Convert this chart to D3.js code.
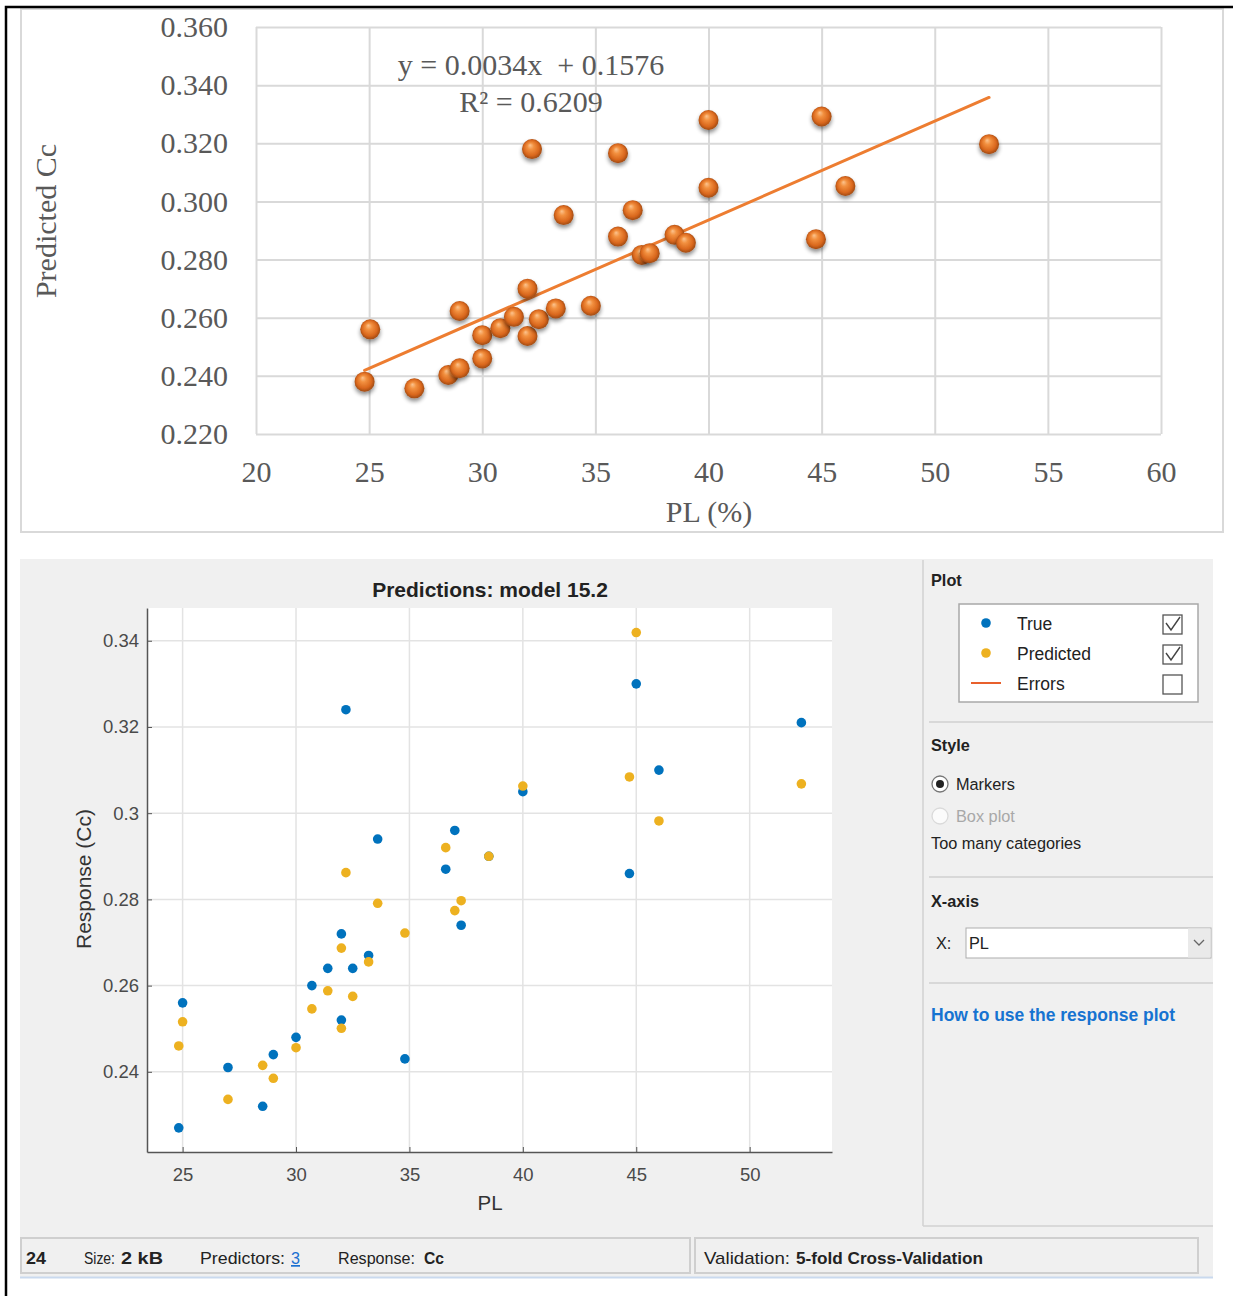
<!DOCTYPE html>
<html>
<head>
<meta charset="utf-8">
<script src="https://cdn.jsdelivr.net/npm/d3@7"></script>
<style>
  body { margin: 0; background: #fff; }
  svg { display: block; }
</style>
</head>
<body>
<div id="chart"></div>
<script>
///////////////////////////////////////////////
// Data ///////////////////////////////////////
///////////////////////////////////////////////

// Top chart (Excel scatter with trendline)
var topPL = [25.05, 24.8, 27.0, 28.5, 29.0, 29.0, 30.0, 30.0, 30.8, 31.4, 32.0, 32.0, 32.5, 32.2, 33.25,
             33.6, 34.8, 36.0, 36.0, 36.65, 37.05, 37.4, 38.5, 39.0, 40.0, 40.0, 45.0, 46.05, 44.75, 52.4];
var topCc = [0.256, 0.238, 0.2357, 0.2403, 0.2426, 0.2623, 0.246, 0.254, 0.2564, 0.2603, 0.270, 0.2537, 0.2595, 0.318, 0.2632,
             0.2953, 0.2641, 0.3166, 0.2879, 0.297, 0.2816, 0.2822, 0.2885, 0.2858, 0.328, 0.3047, 0.3292, 0.3053, 0.287, 0.3197];
var trendSlope = 0.0034, trendIntercept = 0.1576;
var topXTicks = [20, 25, 30, 35, 40, 45, 50, 55, 60];
var topYTicks = [0.22, 0.24, 0.26, 0.28, 0.30, 0.32, 0.34, 0.36];

// Bottom chart (response plot, model 15.2)
var pl     = [24.83, 25.0, 27.0, 28.53, 29.0, 30.0, 30.7, 31.4, 32.0, 32.0, 32.2, 32.5,
              33.2, 33.6, 34.8, 36.6, 37.0, 37.28, 38.5, 40.0, 44.7, 45.0, 46.0, 52.28];
var ccTrue = [0.227, 0.256, 0.241, 0.232, 0.244, 0.248, 0.260, 0.264, 0.272, 0.252, 0.324, 0.264,
              0.267, 0.294, 0.243, 0.287, 0.296, 0.274, 0.290, 0.305, 0.286, 0.330, 0.310, 0.321];
var ccPred = [0.246, 0.2516, 0.2336, 0.2415, 0.2385, 0.2456, 0.2546, 0.2588, 0.2687, 0.2501, 0.2862, 0.2575,
              0.2655, 0.2791, 0.2722, 0.292, 0.2774, 0.2797, 0.290, 0.3063, 0.3084, 0.3419, 0.2982, 0.3068];
var botXTicks = [25, 30, 35, 40, 45, 50];
var botYTicks = [0.24, 0.26, 0.28, 0.30, 0.32, 0.34];
var botXLim = [23.43, 53.63], botYLim = [0.2214, 0.3476];

var legendLabels = ["True", "Predicted", "Errors"];
var legendChecked = [true, true, false];

///////////////////////////////////////////////
// Svg ////////////////////////////////////////
///////////////////////////////////////////////

var W = 1233, H = 1296;
var svg = d3.select("#chart").append("svg")
    .attr("width", W)
    .attr("height", H);

svg.append("rect").attr("width", W).attr("height", H).attr("fill", "#fff");

var defs = svg.append("defs");

var ball = defs.append("radialGradient")
    .attr("id", "ball")
    .attr("cx", "50%").attr("cy", "50%").attr("r", "55%")
    .attr("fx", "40%").attr("fy", "30%");
ball.selectAll("stop")
    .data([
      {offset: "0%", color: "#fcc48f"},
      {offset: "30%", color: "#f2903f"},
      {offset: "70%", color: "#d9671d"},
      {offset: "100%", color: "#8f4210"}
    ])
    .enter().append("stop")
    .attr("offset", function(d) { return d.offset; })
    .attr("stop-color", function(d) { return d.color; });

var shadow = defs.append("filter")
    .attr("id", "shadow")
    .attr("x", "-50%").attr("y", "-50%").attr("width", "200%").attr("height", "200%");
shadow.append("feGaussianBlur").attr("in", "SourceAlpha").attr("stdDeviation", 2).attr("result", "b");
shadow.append("feOffset").attr("in", "b").attr("dx", 0).attr("dy", 3).attr("result", "o");
shadow.append("feComponentTransfer").attr("in", "o").attr("result", "s")
  .append("feFuncA").attr("type", "linear").attr("slope", 0.45);
var merge = shadow.append("feMerge");
merge.append("feMergeNode").attr("in", "s");
merge.append("feMergeNode").attr("in", "SourceGraphic");

///////////////////////////////////////////////
// Top chart //////////////////////////////////
///////////////////////////////////////////////

var serif = "'Liberation Serif', 'Times New Roman', serif";

svg.append("rect")
    .attr("x", 21).attr("y", 9).attr("width", 1202).attr("height", 523)
    .attr("fill", "none").attr("stroke", "#d9d9d9").attr("stroke-width", 2);

var tx = d3.scaleLinear().domain([20, 60]).range([256, 1161]);
var ty = d3.scaleLinear().domain([0.22, 0.36]).range([434, 27]);

var topG = svg.append("g").attr("class", "topChart");

topG.append("g")
    .attr("transform", "translate(" + 256 + ",0)")
    .call(d3.axisLeft(ty).tickValues(topYTicks).tickFormat(d3.format(".3f"))
      .tickSize(-(1161 - 256)).tickPadding(28))
    .call(styleTopAxis);

topG.append("g")
    .attr("transform", "translate(0," + 434 + ")")
    .call(d3.axisBottom(tx).tickValues(topXTicks).tickFormat(d3.format("d"))
      .tickSize(-(434 - 27)).tickPadding(27))
    .call(styleTopAxis);

function styleTopAxis(g) {
  g.select(".domain").remove();
  g.selectAll(".tick line").attr("stroke", "#d9d9d9").attr("stroke-width", 2);
  g.selectAll(".tick text")
    .style("font-family", serif)
    .style("font-size", "30px")
    .attr("fill", "#595959");
}

// trendline
var trendX = d3.extent(topPL);
topG.append("line")
    .attr("x1", tx(trendX[0])).attr("y1", ty(trendSlope * trendX[0] + trendIntercept))
    .attr("x2", tx(trendX[1])).attr("y2", ty(trendSlope * trendX[1] + trendIntercept))
    .attr("stroke", "#ed7d31")
    .attr("stroke-width", 3)
    .attr("stroke-linecap", "round");

// spheres
topG.append("g").selectAll("circle")
    .data(topPL)
    .enter().append("circle")
    .attr("cx", function(d) { return tx(d); })
    .attr("cy", function(d, i) { return ty(topCc[i]); })
    .attr("r", 10)
    .attr("fill", "url(#ball)")
    .attr("filter", "url(#shadow)");

// equation
topG.append("text")
    .attr("x", 531).attr("y", 75)
    .attr("text-anchor", "middle")
    .style("font-family", serif).style("font-size", "30px")
    .attr("fill", "#595959")
    .text("y = 0.0034x \u00a0+ 0.1576");
topG.append("text")
    .attr("x", 531).attr("y", 112)
    .attr("text-anchor", "middle")
    .style("font-family", serif).style("font-size", "30px")
    .attr("fill", "#595959")
    .text("R² = 0.6209");

// axis titles
topG.append("text")
    .attr("x", 709).attr("y", 522)
    .attr("text-anchor", "middle")
    .style("font-family", serif).style("font-size", "30px")
    .attr("fill", "#595959")
    .text("PL (%)");
topG.append("text")
    .attr("transform", "translate(56,221) rotate(-90)")
    .attr("text-anchor", "middle")
    .style("font-family", serif).style("font-size", "30px")
    .attr("fill", "#595959")
    .text("Predicted Cc");

///////////////////////////////////////////////
// Bottom chart ///////////////////////////////
///////////////////////////////////////////////

var sans = "'Liberation Sans', Arial, sans-serif";

svg.append("rect")
    .attr("x", 20).attr("y", 559).attr("width", 1193).attr("height", 718)
    .attr("fill", "#f0f0f0");
svg.append("line")
    .attr("x1", 20).attr("x2", 1213).attr("y1", 1277.5).attr("y2", 1277.5)
    .attr("stroke", "#c9d9ee").attr("stroke-width", 2);

var bx = d3.scaleLinear().domain(botXLim).range([147, 832]);
var by = d3.scaleLinear().domain(botYLim).range([1152, 608]);

var botG = svg.append("g").attr("class", "bottomChart");

botG.append("rect")
    .attr("x", 147).attr("y", 608).attr("width", 832 - 147).attr("height", 1152 - 608)
    .attr("fill", "#fff");

// grid
botG.append("g").selectAll("line")
    .data(botXTicks).enter().append("line")
    .attr("x1", function(d) { return bx(d); }).attr("x2", function(d) { return bx(d); })
    .attr("y1", 608).attr("y2", 1152)
    .attr("stroke", "#e3e3e3").attr("stroke-width", 1.5);
botG.append("g").selectAll("line")
    .data(botYTicks).enter().append("line")
    .attr("y1", function(d) { return by(d); }).attr("y2", function(d) { return by(d); })
    .attr("x1", 147).attr("x2", 832)
    .attr("stroke", "#e3e3e3").attr("stroke-width", 1.5);

// axes
botG.append("g")
    .attr("transform", "translate(147,0)")
    .call(d3.axisLeft(by).tickValues(botYTicks).tickFormat(d3.format(".2~f"))
      .tickSizeInner(-5).tickSizeOuter(0).tickPadding(8))
    .call(styleBotAxis);
botG.append("g")
    .attr("transform", "translate(0,1152)")
    .call(d3.axisBottom(bx).tickValues(botXTicks).tickFormat(d3.format("d"))
      .tickSizeInner(-5).tickSizeOuter(0).tickPadding(16))
    .call(styleBotAxis);

function styleBotAxis(g) {
  g.select(".domain").attr("stroke", "#555").attr("stroke-width", 1.5);
  g.selectAll(".tick line").attr("stroke", "#555");
  g.selectAll(".tick text")
    .style("font-family", sans)
    .style("font-size", "18.5px")
    .attr("fill", "#4a4a4a");
}

// points: True first, Predicted on top
botG.append("g").selectAll("circle")
    .data(pl).enter().append("circle")
    .attr("cx", function(d) { return bx(d); })
    .attr("cy", function(d, i) { return by(ccTrue[i]); })
    .attr("r", 4.8)
    .attr("fill", "#0072bd");
botG.append("g").selectAll("circle")
    .data(pl).enter().append("circle")
    .attr("cx", function(d) { return bx(d); })
    .attr("cy", function(d, i) { return by(ccPred[i]); })
    .attr("r", 4.8)
    .attr("fill", "#edb120");

botG.append("text")
    .attr("x", 490).attr("y", 597)
    .attr("text-anchor", "middle")
    .style("font-family", sans).style("font-size", "21px").style("font-weight", "bold")
    .attr("fill", "#222")
    .text("Predictions: model 15.2");
botG.append("text")
    .attr("x", 490).attr("y", 1210)
    .attr("text-anchor", "middle")
    .style("font-family", sans).style("font-size", "20.5px")
    .attr("fill", "#333")
    .text("PL");
botG.append("text")
    .attr("transform", "translate(91,879) rotate(-90)")
    .attr("text-anchor", "middle")
    .style("font-family", sans).style("font-size", "21px")
    .attr("fill", "#333")
    .text("Response (Cc)");

///////////////////////////////////////////////
// Side panel /////////////////////////////////
///////////////////////////////////////////////

var side = svg.append("g").attr("class", "side")
    .style("font-family", sans).style("font-size", "16.3px");

side.append("line").attr("x1", 923).attr("x2", 923).attr("y1", 560).attr("y2", 1226)
    .attr("stroke", "#d2d2d2").attr("stroke-width", 1.5);
side.append("line").attr("x1", 923).attr("x2", 1213).attr("y1", 1226).attr("y2", 1226)
    .attr("stroke", "#d2d2d2").attr("stroke-width", 1.5);
[722, 877, 983].forEach(function(y) {
  side.append("line").attr("x1", 929).attr("x2", 1213).attr("y1", y).attr("y2", y)
      .attr("stroke", "#d8d8d8").attr("stroke-width", 2);
});

function label(x, y, t, bold, color) {
  return side.append("text").attr("x", x).attr("y", y)
      .style("font-weight", bold ? "bold" : "normal")
      .attr("fill", color || "#222").text(t);
}

label(931, 586, "Plot", true);

side.append("rect").attr("x", 959).attr("y", 604).attr("width", 239).attr("height", 98)
    .attr("fill", "#fff").attr("stroke", "#a8a8a8").attr("stroke-width", 1.5);

var legend = side.selectAll(".leg")
    .data(legendLabels).enter().append("g")
    .attr("class", "leg")
    .attr("transform", function(d, i) { return "translate(0," + (625 + i * 30) + ")"; });

legend.each(function(d, i) {
  var g = d3.select(this);
  if (i < 2) {
    g.append("circle").attr("cx", 986).attr("cy", -2).attr("r", 4.8)
      .attr("fill", i === 0 ? "#0072bd" : "#edb120");
  } else {
    g.append("line").attr("x1", 971).attr("x2", 1001).attr("y1", -2).attr("y2", -2)
      .attr("stroke", "#e8602c").attr("stroke-width", 2);
  }
  g.append("text").attr("x", 1017).attr("y", 5).attr("fill", "#222")
    .style("font-size", "17.5px").text(d);
  g.append("rect").attr("x", 1163).attr("y", -10).attr("width", 19).attr("height", 19)
    .attr("fill", "#fff").attr("stroke", "#555").attr("stroke-width", 1.3);
  if (legendChecked[i]) {
    g.append("path").attr("d", "M1166,-2 L1171,5 L1180,-8")
      .attr("fill", "none").attr("stroke", "#444").attr("stroke-width", 1.4);
  }
});

label(931, 751, "Style", true);
side.append("circle").attr("cx", 940).attr("cy", 784).attr("r", 8)
    .attr("fill", "#fff").attr("stroke", "#777").attr("stroke-width", 1.3);
side.append("circle").attr("cx", 940).attr("cy", 784).attr("r", 4).attr("fill", "#222");
label(956, 790, "Markers", false);
side.append("circle").attr("cx", 940).attr("cy", 816).attr("r", 8)
    .attr("fill", "#fbfbfb").attr("stroke", "#dadada").attr("stroke-width", 1.3);
label(956, 822, "Box plot", false, "#a8a8a8");
label(931, 849, "Too many categories", false);

label(931, 907, "X-axis", true);
label(936, 949, "X:", false);
side.append("rect").attr("x", 966).attr("y", 928).attr("width", 245).attr("height", 30)
    .attr("fill", "#fff").attr("stroke", "#adadad").attr("stroke-width", 1);
side.append("rect").attr("x", 1188).attr("y", 928.5).attr("width", 22.5).attr("height", 29)
    .attr("fill", "#eaeaea");
side.append("path").attr("d", "M1194,940 L1199,945 L1204,940")
    .attr("fill", "none").attr("stroke", "#666").attr("stroke-width", 1.3);
label(969, 949, "PL", false);

label(931, 1021, "How to use the response plot", true, "#1673d1")
    .style("font-size", "17.5px");

///////////////////////////////////////////////
// Status bar /////////////////////////////////
///////////////////////////////////////////////

var statusG = svg.append("g").attr("class", "statusBar")
    .style("font-family", sans).style("font-size", "17px");

statusG.append("rect").attr("x", 21).attr("y", 1238).attr("width", 669).attr("height", 35)
    .attr("fill", "#f0f0f0").attr("stroke", "#cfcfcf").attr("stroke-width", 2);
statusG.append("rect").attr("x", 695).attr("y", 1238).attr("width", 503).attr("height", 35)
    .attr("fill", "#f0f0f0").attr("stroke", "#cfcfcf").attr("stroke-width", 2);

var statusParts = [
  {x: 26,  w: 20,  t: "24", b: true},
  {x: 84,  w: 31,  t: "Size:", b: false},
  {x: 121, w: 42,  t: "2 kB", b: true},
  {x: 200, w: 85,  t: "Predictors:", b: false},
  {x: 291, w: 9,   t: "3", b: false, c: "#1a6fd0", u: true},
  {x: 338, w: 77,  t: "Response:", b: false},
  {x: 424, w: 20,  t: "Cc", b: true},
  {x: 704, w: 86,  t: "Validation:", b: false},
  {x: 796, w: 187, t: "5-fold Cross-Validation", b: true}
];

statusG.selectAll("text")
    .data(statusParts).enter().append("text")
    .attr("x", function(d) { return d.x; })
    .attr("y", 1264)
    .attr("textLength", function(d) { return d.w; })
    .attr("lengthAdjust", "spacingAndGlyphs")
    .style("font-weight", function(d) { return d.b ? "bold" : "normal"; })
    .style("text-decoration", function(d) { return d.u ? "underline" : "none"; })
    .attr("fill", function(d) { return d.c || "#222"; })
    .text(function(d) { return d.t; });

///////////////////////////////////////////////
// Outer frame ////////////////////////////////
///////////////////////////////////////////////

svg.append("path")
    .attr("d", "M6,1296 V7 H1233")
    .attr("fill", "none")
    .attr("stroke", "#000")
    .attr("stroke-width", 2.5);
</script>
</body>
</html>
